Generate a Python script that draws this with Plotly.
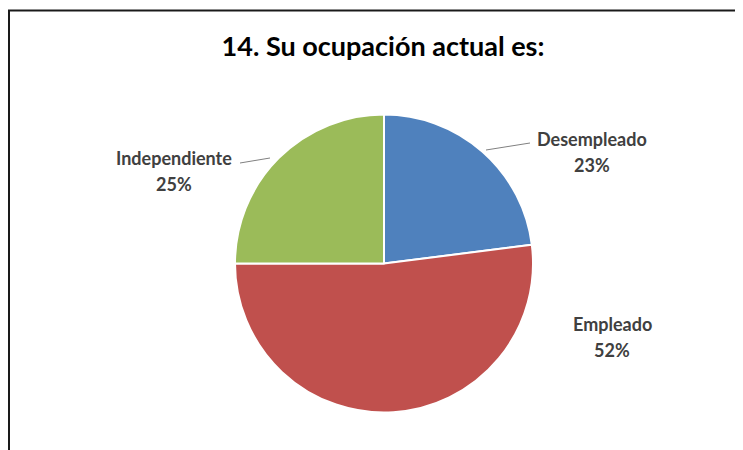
import plotly.graph_objects as go

labels = ["Desempleado", "Empleado", "Independiente"]
values = [23, 52, 25]
colors = ["#4F81BD", "#C0504D", "#9BBB59"]

W, H = 743, 450
OFF = 8  # page body margin of the browser

def px(x):
    return (x - OFF) / W

def py(y):
    return 1 - (y - OFF) / H

# label placement (reference pixel coords) for the outside labels
label_pos = {
    "Desempleado": (592, 139),
    "Empleado": (612, 324),
    "Independiente": (174, 158),
}

cx, cy, r = 384, 263.5, 149

fig = go.Figure(go.Pie(
    labels=labels, values=values, sort=False,
    direction="clockwise", rotation=0,
    marker=dict(colors=colors, line=dict(color="white", width=2)),
    textinfo="none", hoverinfo="label+percent", showlegend=False,
    domain=dict(x=[px(cx - r), px(cx + r)], y=[py(cy + r), py(cy - r)]),
))

font_lbl = dict(family="Lato, Open Sans, sans-serif", size=18, color="#404040")
total = sum(values)
for lab, val in zip(labels, values):
    x, y = label_pos[lab]
    fig.add_annotation(text="<b>%s</b>" % lab, x=px(x), y=py(y), xref="paper", yref="paper",
                       showarrow=False, font=font_lbl, xanchor="center", yanchor="middle")
    fig.add_annotation(text="<b>%d%%</b>" % round(100 * val / total), x=px(x), y=py(y + 26),
                       xref="paper", yref="paper",
                       showarrow=False, font=font_lbl, xanchor="center", yanchor="middle")

# leader lines
fig.add_shape(type="line", xref="paper", yref="paper",
              x0=px(486), y0=py(150), x1=px(530), y1=py(143),
              line=dict(color="#808080", width=1))
fig.add_shape(type="line", xref="paper", yref="paper",
              x0=px(240), y0=py(163), x1=px(270), y1=py(158),
              line=dict(color="#808080", width=1))

# chart frame (cut off at right and bottom)
fig.add_shape(type="rect", xref="paper", yref="paper",
              x0=px(9), y0=-0.05, x1=1.05, y1=py(10.5),
              line=dict(color="#1a1a1a", width=2))

fig.update_layout(
    width=W, height=H,
    margin=dict(l=0, r=0, t=0, b=0),
    paper_bgcolor="white", plot_bgcolor="white",
    title=dict(text="<b>14. Su ocupación actual es:</b>", x=px(383), xanchor="center",
               y=py(47), yanchor="middle",
               font=dict(family="Lato, Open Sans, sans-serif", size=27, color="#000000")),
)

fig.write_html("out.html")
